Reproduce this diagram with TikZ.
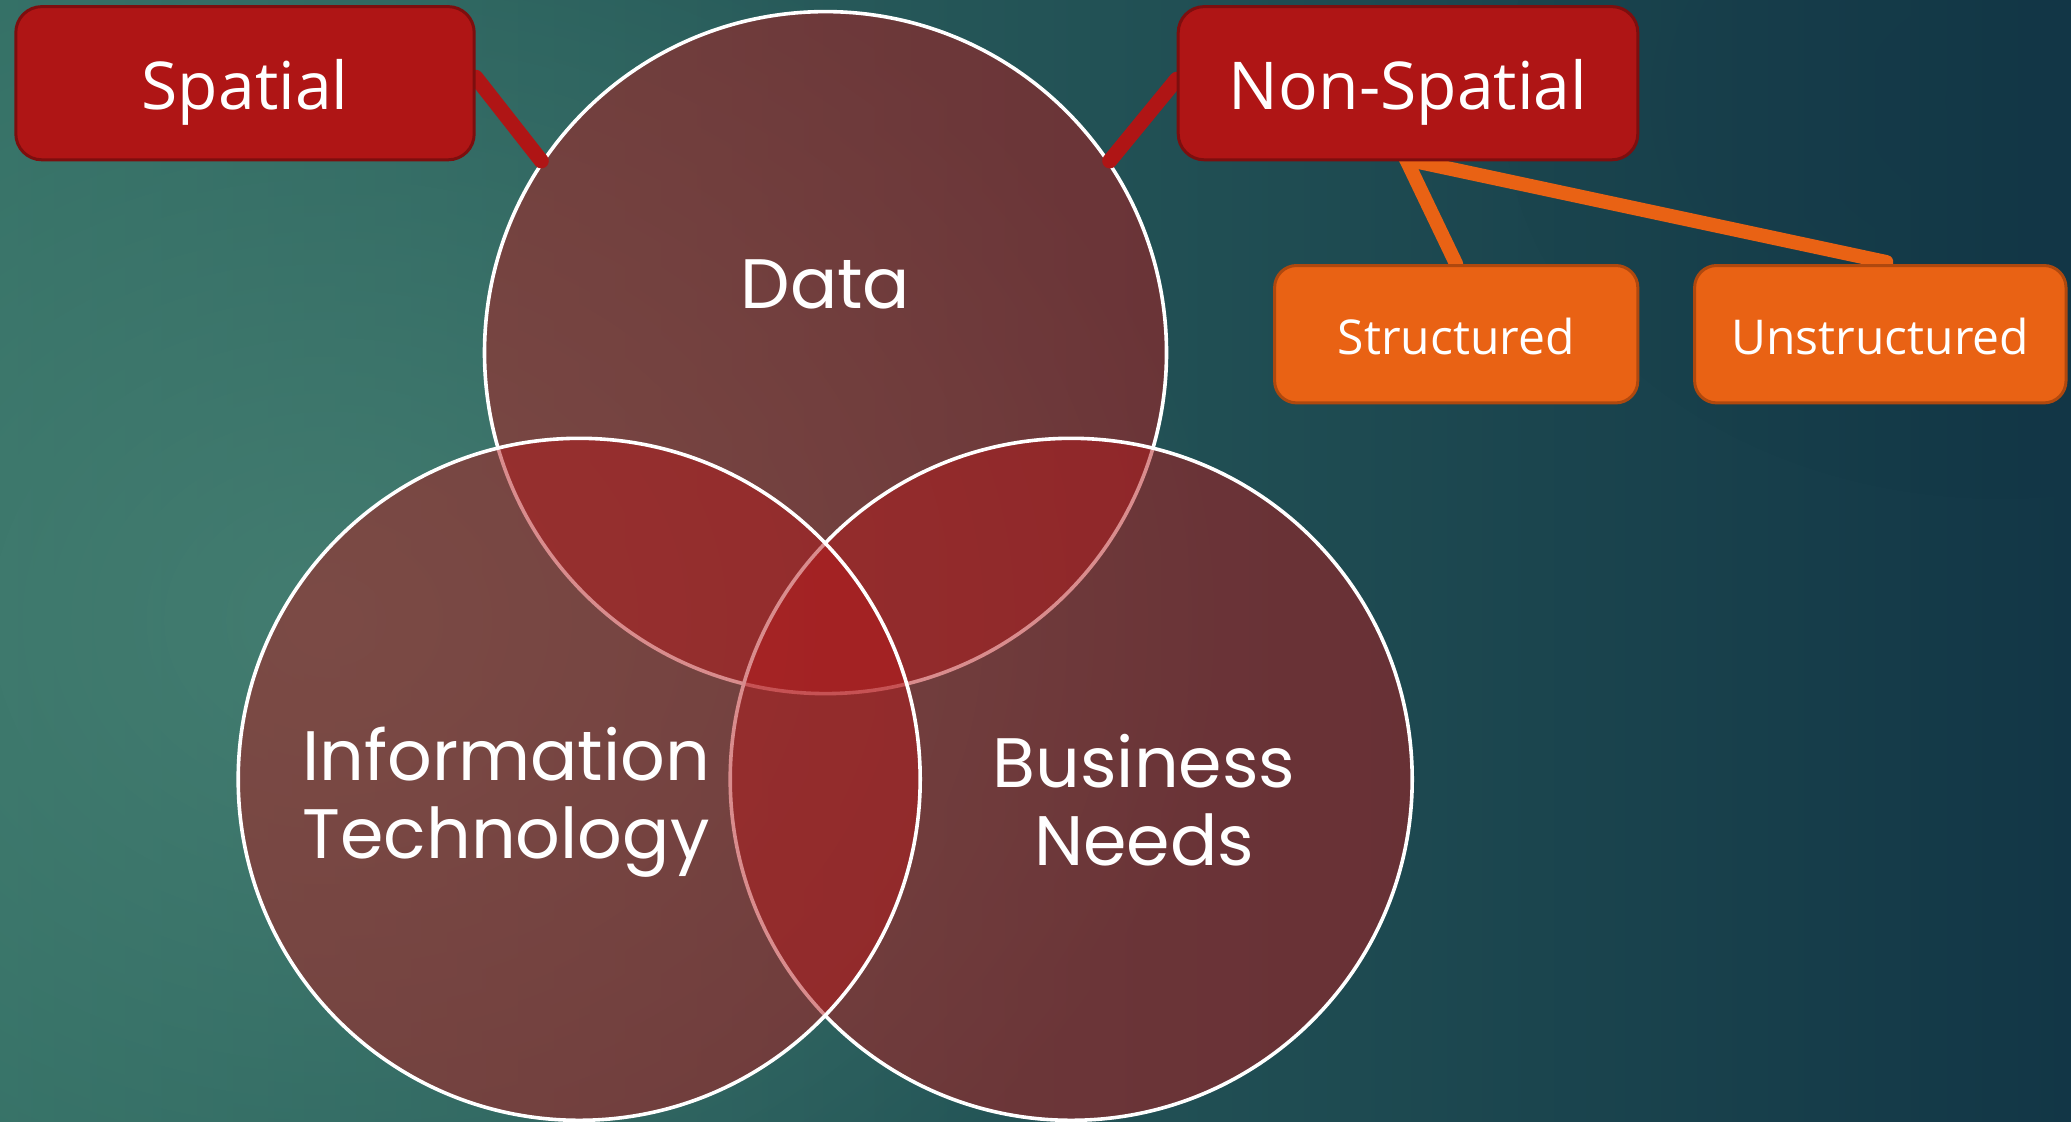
\documentclass[tikz,border=0pt]{standalone}
\usepackage{fontspec}
\setmainfont{Poppins}
\newfontfamily\boxfont{Open Sans}
\usetikzlibrary{fadings,calc}
\definecolor{bgL}{RGB}{52,112,102}
\definecolor{bgR}{RGB}{18,54,70}
\definecolor{bgGlow}{RGB}{72,130,116}
\definecolor{vennfill}{RGB}{180,26,28}
\definecolor{redbox}{RGB}{175,21,21}
\definecolor{redborder}{RGB}{125,14,14}
\definecolor{orangebox}{RGB}{233,98,20}
\definecolor{orangeborder}{RGB}{175,72,14}
\tikzfading[name=softglow, inner color=transparent!20, outer color=transparent!100]
\pgfdeclarelayer{back}
\pgfdeclarelayer{mid}
\pgfsetlayers{back,mid,main}
\tikzset{
  venn/.style={circle, minimum size=341pt, inner sep=0pt, draw=white, line width=1.8pt, fill=vennfill, fill opacity=0.5, draw opacity=1},
  vlabel/.style={text=white, font=\fontsize{35}{39}\selectfont, align=center, inner sep=0pt},
  redlabel/.style={rounded corners=13pt, draw=redborder, line width=1.5pt, fill=redbox, text=white, font=\boxfont\fontsize{33}{38}\selectfont, minimum height=76.6pt, text height=26.3pt, text depth=0pt},
  orangelabel/.style={rounded corners=11pt, draw=orangeborder, line width=1.5pt, fill=orangebox, text=white, font=\boxfont\fontsize{24}{28}\selectfont, minimum height=68.7pt, text height=19.8pt, text depth=0pt},
  redlink/.style={draw=redbox, line width=7.5pt, line cap=round},
  orangelink/.style={draw=orangebox, line width=7pt, line cap=round}
}
\begin{document}
\begin{tikzpicture}[x=0.5pt,y=-0.5pt]
\useasboundingbox (0,0) rectangle (2071,1121);
\clip (0,0) rectangle (2071,1121);
\begin{pgfonlayer}{back}
\shade[left color=bgL, right color=bgR] (0,0) rectangle (2071,1121);
\fill[bgGlow, path fading=softglow] (330,620) ellipse (900 and 750);
\fill[bgR, opacity=0.35, path fading=softglow] (2000,100) ellipse (500 and 400);
% circles (order: Data, Business, IT)
\node[venn] (data) at (825.5,352.6) {};
\node[venn] (business) at (1071.2,779.3) {};
\node[venn] (it) at (579.2,779.3) {};
\end{pgfonlayer}

% texts
\node[vlabel] (datatext) at (825.5,284) {Data};
\node[vlabel] (ittext) at (506,802) {Information\\Technology};
\node[vlabel] (bntext) at (1144,800) {Business\\Needs};

% boxes
\node[redlabel, minimum width=229.2pt] (spatial) at (245,83.2) {Spatial};
\node[redlabel, minimum width=229.8pt] (nonspatial) at (1408,83.2) {Non-Spatial};
\node[orangelabel, minimum width=181.6pt] (structured) at (1456.2,334.2) {Structured};
\node[orangelabel, minimum width=185.7pt] (unstructured) at (1880.3,334.2) {Unstructured};

% connectors
\coordinate (spatialout) at ($(spatial.east)+(0,-6)$);
\coordinate (nonspatialout) at ($(nonspatial.west)+(0,-4)$);
\coordinate (nsbottom) at ($(nonspatial.south)+(-2,-2)$);
\coordinate (unstop) at ($(unstructured.north)+(6,-2)$);
\begin{pgfonlayer}{mid}
\draw[redlink] (spatialout) -- (data.146);
\draw[redlink] (nonspatialout) -- (data.34);
\draw[orangelink] (nsbottom) -- (structured.north);
\draw[orangelink] (nsbottom) -- (unstop);
\end{pgfonlayer}
\end{tikzpicture}
\end{document}
